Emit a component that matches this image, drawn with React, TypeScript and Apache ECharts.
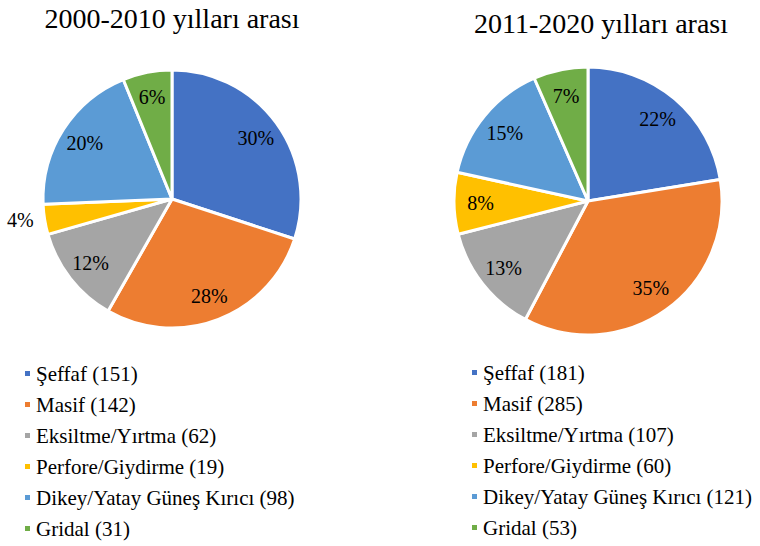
import React, { useEffect, useRef } from "react";
import * as echarts from "echarts";

const categories = ["Şeffaf", "Masif", "Eksiltme/Yırtma", "Perfore/Giydirme", "Dikey/Yatay Güneş Kırıcı", "Gridal"];
const values2000 = [151, 142, 62, 19, 98, 31];
const values2011 = [181, 285, 107, 60, 121, 53];
const titles = ["2000-2010 yılları arası", "2011-2020 yılları arası"];
const colors = ["#4472C4", "#ED7D31", "#A5A5A5", "#FFC000", "#5B9BD5", "#70AD47"];

const FONT = "Liberation Serif";

export default function App() {
  const ref = useRef<HTMLDivElement>(null);
  useEffect(() => {
    if (!ref.current) return;
    const chart = echarts.init(ref.current, null, { renderer: "svg" });
    const names1 = categories.map((c, i) => `${c} (${values2000[i]})`);
    const names2 = categories.map((c, i) => `${c} (${values2011[i]})`);
    const lblStyle = {
      fontFamily: FONT,
      fontSize: 20,
      fontWeight: "normal" as const,
      color: "#000",
    };
    const mk = (names: string[], vals: number[]) =>
      names.map((n, i) => ({ name: n, value: vals[i] }));
    const mkLabels = (names: string[], vals: number[], outsideIdx: number[]) =>
      names.map((n, i) => ({
        name: n,
        value: vals[i],
        label: {
          ...lblStyle,
          show: true,
          formatter: "{d}%",
          position: outsideIdx.includes(i) ? ("outside" as const) : ("inside" as const),
        },
        labelLine: { show: false },
      }));
    const mainPie = (center: number[], r: number, data: any[]) => ({
      type: "pie",
      center,
      radius: [0, r],
      startAngle: 90,
      clockwise: true,
      silent: true,
      percentPrecision: 0,
      label: { show: false },
      labelLine: { show: false },
      itemStyle: { borderColor: "#fff", borderWidth: 3 },
      data,
    });
    const labelPie = (center: number[], r: number, data: any[]) => ({
      type: "pie",
      center,
      radius: [Math.round(r * 0.56), r],
      startAngle: 90,
      clockwise: true,
      silent: true,
      percentPrecision: 0,
      avoidLabelOverlap: false,
      itemStyle: { color: "rgba(0,0,0,0)" },
      label: { ...lblStyle, show: true, formatter: "{d}%" },
      labelLine: { show: false, length: 4, length2: 2 },
      data,
    });
    const legendCommon = {
      orient: "vertical",
      icon: "rect",
      itemWidth: 7,
      itemHeight: 7,
      itemGap: 10,
      textStyle: { fontFamily: FONT, fontSize: 21, color: "#000" },
      selectedMode: false,
    };
    chart.setOption({
      animation: false,
      color: colors,
      backgroundColor: "#fff",
      textStyle: { fontFamily: FONT },
      title: [
        {
          text: titles[0],
          left: 167,
          top: -1,
          textAlign: "center",
          textStyle: { fontFamily: FONT, fontSize: 28, fontWeight: "normal", color: "#000" },
        },
        {
          text: titles[1],
          left: 596,
          top: 4,
          textAlign: "center",
          textStyle: { fontFamily: FONT, fontSize: 28, fontWeight: "normal", color: "#000" },
        },
      ],
      legend: [
        { ...legendCommon, left: 18, top: 358, data: names1 },
        { ...legendCommon, left: 465, top: 357, data: names2 },
      ],
      series: [
        mainPie([172, 199], 129, mk(names1, values2000)),
        mainPie([588, 201], 134, mk(names2, values2011)),
        labelPie([172, 199], 129, mkLabels(names1, values2000, [3])),
        labelPie([588, 201], 134, mkLabels(names2, values2011, [])),
      ],
    });
    return () => chart.dispose();
  }, []);
  return (
    <div
      ref={ref}
      style={{ position: "fixed", left: 0, top: 0, width: 760, height: 546 }}
    />
  );
}
